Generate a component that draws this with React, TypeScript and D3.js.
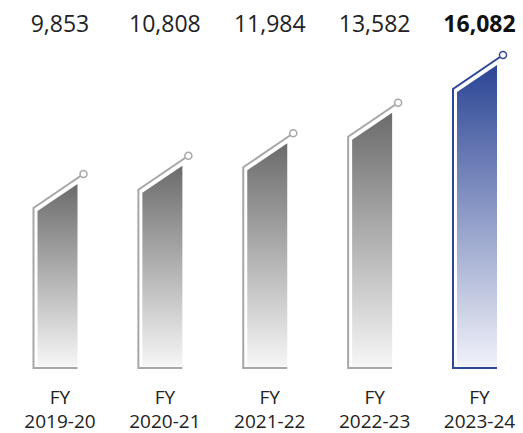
import React from "react";
import * as d3 from "d3";

const categories = ["2019-20", "2020-21", "2021-22", "2022-23", "2023-24"];
const values = [9853, 10808, 11984, 13582, 16082];
const highlightIndex = 4;

const W = 523;
const H = 433;
const baseline = 368;

export default function App() {
  const x = d3.scalePoint<string>().domain(categories).range([58.5, 478]);
  const y = d3.scaleLinear().domain([0, 16082]).range([362.2, 55]);
  const fmt = d3.format(",");
  const font = "'Open Sans', sans-serif";

  return (
    <svg width={W} height={H} style={{ position: "absolute", left: 0, top: 0 }}>
      <defs>
        <linearGradient id="gGrey" x1="0" y1="0" x2="0" y2="1">
          <stop offset="0%" stopColor="#6b6b6b" />
          <stop offset="100%" stopColor="#f6f6f6" />
        </linearGradient>
        <linearGradient id="gBlue" x1="0" y1="0" x2="0" y2="1">
          <stop offset="0%" stopColor="#2b4595" />
          <stop offset="100%" stopColor="#f1f2f9" />
        </linearGradient>
      </defs>
      <rect width={W} height={H} fill="#fff" />
      {categories.map((c, i) => {
        const gc = x(c)!;
        const cx = gc + 25;
        const cy = y(values[i]);
        const hi = i === highlightIndex;
        const stroke = hi ? "#2e4697" : "#a7a7a7";
        const left = cx - 50;
        const fl = cx - 46;
        const fr = cx - 6;
        const fillPath = `M${fl},${cy + 37}L${fr},${cy + 10}L${fr},${baseline - 1.5}L${fl},${baseline - 1.5}Z`;
        const linePath = `M${fr},${baseline}H${left}V${cy + 34}L${cx - 3},${cy + 2}`;
        return (
          <g key={c}>
            <path d={fillPath} fill={hi ? "url(#gBlue)" : "url(#gGrey)"} />
            <path d={linePath} fill="none" stroke={stroke} strokeWidth={2} />
            <circle cx={cx} cy={cy} r={3.5} fill="#fff" stroke={stroke} strokeWidth={1.5} />
            <text
              x={gc + 1.5}
              y={32}
              textAnchor="middle"
              fontFamily={font}
              fontSize={23}
              fontWeight={hi ? 700 : 400}
              fill={hi ? "#111" : "#222"}
            >
              {fmt(values[i])}
            </text>
            <text x={gc + 1.5} y={403.5} textAnchor="middle" fontFamily={font} fontSize={19} fill="#222">
              FY
            </text>
            <text x={gc + 1.5} y={427.5} textAnchor="middle" fontFamily={font} fontSize={19} fill="#222">
              {c}
            </text>
          </g>
        );
      })}
    </svg>
  );
}
